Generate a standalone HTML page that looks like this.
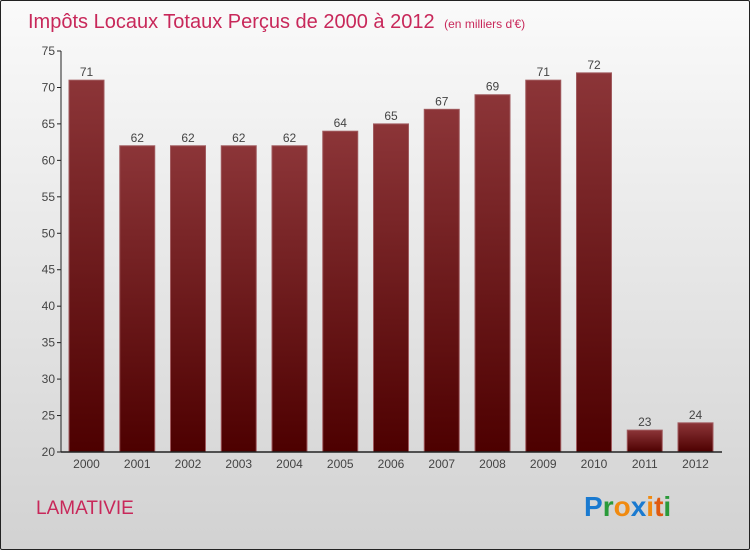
<!DOCTYPE html>
<html><head><meta charset="utf-8"><style>
body{margin:0}
#c{width:750px;height:550px;position:relative;box-sizing:border-box;border:1px solid #222;border-radius:2px;background:linear-gradient(#fafafa,#d2d2d2);font-family:"Liberation Sans",sans-serif;overflow:hidden}
</style></head><body>
<div id="c">
<svg width="750" height="550" style="position:absolute;left:0;top:0">
<defs><linearGradient id="g" x1="0" y1="0" x2="0" y2="1"><stop offset="0" stop-color="#8c3538"/><stop offset="1" stop-color="#4d0000"/></linearGradient></defs>
<text x="27" y="27" font-size="20" fill="#c8285a">Impôts Locaux Totaux Perçus de 2000 à 2012 <tspan font-size="12" dx="4">(en milliers d'€)</tspan></text>
<g id="plot"></g>
<text x="35" y="513" font-size="19" fill="#c8285a">LAMATIVIE</text>
<text x="583" y="515" font-size="28" font-weight="bold"><tspan fill="#1a7ad0">P</tspan><tspan fill="#2a9a3a">r</tspan><tspan fill="#f08a10">o</tspan><tspan fill="#1a7ad0">x</tspan><tspan fill="#f08a10">i</tspan><tspan fill="#e05a10">t</tspan><tspan fill="#2a9a3a">i</tspan></text>
</svg>
</div>
<script>
const categories=["2000","2001","2002","2003","2004","2005","2006","2007","2008","2009","2010","2011","2012"];
const values=[71,62,62,62,62,64,65,67,69,71,72,23,24];
const yTicks=[20,25,30,35,40,45,50,55,60,65,70,75];
const NS="http://www.w3.org/2000/svg";
const g=document.getElementById('plot');
const yMin=20,yMax=75,yTop=50,yBot=451,axX=60,axEnd=721;
const y=v=>yBot-(v-yMin)/(yMax-yMin)*(yBot-yTop);
const step=50.75,bw=35,x0=68;
const x=i=>x0+i*step;
function el(t,a,txt){const e=document.createElementNS(NS,t);for(const k in a)e.setAttribute(k,a[k]);if(txt!=null)e.textContent=txt;g.appendChild(e);return e;}
yTicks.forEach(t=>{
 const l=el('line',{x1:axX-4,x2:axX,y1:y(t),y2:y(t),stroke:'#222'});
 
 
 const s=el('text',{x:axX-6,y:y(t)+4,'text-anchor':'end','font-size':12,fill:'#444'},t);
 
 
});
values.forEach((v,i)=>{
 const r=el('rect',{x:x(i),y:y(v),width:bw,height:yBot-y(v),fill:'url(#g)',stroke:'#a05a5e','stroke-width':1});
 
 
 const t=el('text',{x:x(i)+bw/2,y:y(v)-4,'text-anchor':'middle','font-size':12,fill:'#444'},v);
 
 
 const c=el('text',{x:x(i)+bw/2,y:467,'text-anchor':'middle','font-size':12,fill:'#444'},categories[i]);
 
 
});
const ya=el('line',{x1:axX,x2:axX,y1:yTop,y2:yBot,stroke:'#222'});


const xa=el('line',{x1:axX,x2:axEnd,y1:yBot,y2:yBot,stroke:'#222','stroke-width':1.5});


</script>
</body></html>
